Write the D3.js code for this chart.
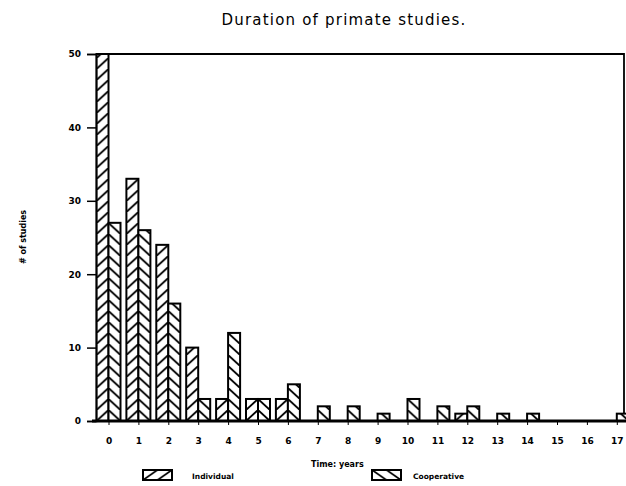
<!DOCTYPE html>
<html><head><meta charset="utf-8">
<script src="https://cdn.jsdelivr.net/npm/d3@7"></script>
<style>body{margin:0;background:#fff}svg{display:block}</style>
</head><body>
<script>
const categories = ["0","1","2","3","4","5","6","7","8","9","10","11","12","13","14","15","16","17"];
const individual = [50,33,24,10,3,3,3,0,0,0,0,0,1,0,0,0,0,0];
const cooperative = [27,26,16,3,12,3,5,2,2,1,3,2,2,1,1,0,0,1];
const yTicks = [0,10,20,30,40,50];
const seriesNames = ["Individual","Cooperative"];

const W = 626, H = 486;
const svg = d3.select("body").append("svg").attr("width",W).attr("height",H);
const defs = svg.append("defs");

const x = d3.scalePoint().domain(categories).range([108.5, 616.8]);
const y = d3.scaleLinear().domain([0,50]).range([421, 54]);
const bw = 12;
const tileW = 12, tileH = 11;

function hatch(id, cx, dir){
  const p = defs.append("pattern").attr("id",id).attr("patternUnits","userSpaceOnUse")
    .attr("x",cx).attr("y",y(0)).attr("width",tileW).attr("height",tileH);
  p.append("rect").attr("width",tileW).attr("height",tileH).attr("fill","#fff");
  const d = dir==="/" ? `M${-tileW},${2*tileH}L${2*tileW},${-tileH}` : `M${-tileW},${-tileH}L${2*tileW},${2*tileH}`;
  p.append("path").attr("d",d).attr("stroke","#000").attr("stroke-width",1.9);
}

categories.forEach((c,i)=>{
  hatch("ind"+i, x(c), "/");
  hatch("coo"+i, x(c), "\\");
});

// frame
svg.append("path").attr("d",`M96,${y(50)}H624V${y(0)}`).attr("fill","none").attr("stroke","#000").attr("stroke-width",1.8);

const g = svg.append("g");
categories.forEach((c,i)=>{
  if(individual[i]>0){
    g.append("rect").attr("x",x(c)-bw).attr("y",y(individual[i])).attr("width",bw).attr("height",y(0)-y(individual[i]))
     .attr("fill",`url(#ind${i})`).attr("stroke","#000").attr("stroke-width",2);
  }
  if(cooperative[i]>0){
    g.append("rect").attr("x",x(c)).attr("y",y(cooperative[i])).attr("width",bw).attr("height",y(0)-y(cooperative[i]))
     .attr("fill",`url(#coo${i})`).attr("stroke","#000").attr("stroke-width",2);
  }
});

// y axis
const yAxis = svg.append("g").attr("transform","translate(96,0)")
  .call(d3.axisLeft(y).tickValues(yTicks).tickSize(9).tickPadding(6));
yAxis.select(".domain").attr("stroke-width",1.5);
yAxis.selectAll(".tick line").attr("stroke-width",1.5);
yAxis.selectAll("text").attr("font-family","DejaVu Sans").attr("font-weight","bold").attr("font-size",9).attr("fill","#000");

// x axis
const xAxis = svg.append("g").attr("transform",`translate(0,${y(0)})`)
  .call(d3.axisBottom(x).tickSize(4).tickPadding(13));
xAxis.select(".domain").attr("d",`M92,0H626`).attr("stroke-width",2.8);
xAxis.selectAll(".tick line").attr("stroke-width",1);
xAxis.selectAll("text").attr("font-family","DejaVu Sans").attr("font-weight","bold").attr("font-size",9).attr("fill","#000");

// title
svg.append("text").attr("x",344).attr("y",25).attr("text-anchor","middle")
  .attr("font-family","DejaVu Sans").attr("font-size",15).attr("letter-spacing",1.2).attr("fill","#000")
  .text("Duration of primate studies.");

// y title
svg.append("text").attr("transform","translate(26,237) rotate(-90)").attr("text-anchor","middle")
  .attr("font-family","DejaVu Sans").attr("font-weight","bold").attr("font-size",8).text("# of studies");

// x title
svg.append("text").attr("x",311).attr("y",467)
  .attr("font-family","DejaVu Sans").attr("font-weight","bold").attr("font-size",8).text("Time: years");

// legend
const legX = [143, 372], legTextX = [192, 413];
seriesNames.forEach((n,i)=>{
  const pid = "leg"+i;
  const p = defs.append("pattern").attr("id",pid).attr("patternUnits","userSpaceOnUse")
    .attr("x",legX[i]).attr("y",470).attr("width",14.5).attr("height",10);
  p.append("path").attr("d", i===0 ? "M0,10L14.5,0" : "M0,0L14.5,10").attr("stroke","#000").attr("stroke-width",1.8);
  svg.append("rect").attr("x",legX[i]).attr("y",470).attr("width",29).attr("height",10)
    .attr("fill",`url(#${pid})`).attr("stroke","#000").attr("stroke-width",2);
  svg.append("text").attr("x",legTextX[i]).attr("y",478.5)
    .attr("font-family","DejaVu Sans").attr("font-weight","bold").attr("font-size",7.5).text(n);
});
</script>
</body></html>
